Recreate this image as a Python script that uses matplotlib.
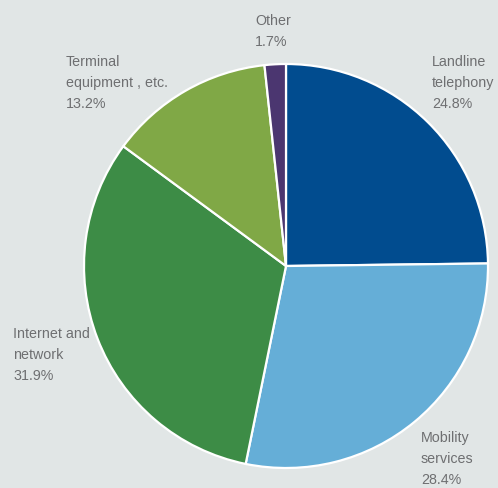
import matplotlib.pyplot as plt

# Revenue split by service area
labels = ["Landline\ntelephony", "Mobility\nservices", "Internet and\nnetwork",
          "Terminal\nequipment , etc.", "Other"]
shares = [24.8, 28.4, 31.9, 13.2, 1.7]
colors = ["#014c8f", "#65aed7", "#3d8c46", "#80a846", "#4b3670"]

# left/top anchor of each label, in pixel units
label_pos = [(432, 55), (421, 431), (13, 327), (66, 55), (255, 14)]

bg = "#e1e6e6"
fig = plt.figure(figsize=(4.98, 4.88), dpi=100, facecolor=bg)
ax = fig.add_axes([0, 0, 1, 1])
ax.set_facecolor(bg)

ax.pie(shares, colors=colors, startangle=90, counterclock=False,
       center=(286, 488 - 266), radius=202, frame=True,
       wedgeprops=dict(edgecolor="white", linewidth=1.6))
ax.set_xlim(0, 498)
ax.set_ylim(0, 488)
ax.set_aspect("equal")
ax.axis("off")

for lab, val, (x, y) in zip(labels, shares, label_pos):
    ax.text(x, 488 - y, f"{lab}\n{val:.1f}%", ha="left", va="top",
            fontsize=10.3, color="#6e6f71", linespacing=1.65,
            family="Liberation Sans")

fig.savefig("out.png", dpi=100, facecolor=bg)
